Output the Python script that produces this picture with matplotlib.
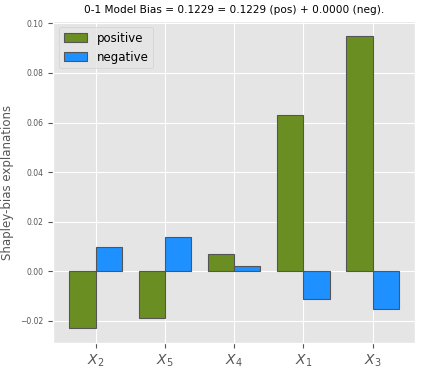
import numpy as np
import matplotlib
matplotlib.use("Agg")
import matplotlib.pyplot as plt

# Data
features = [r"$X_2$", r"$X_5$", r"$X_4$", r"$X_1$", r"$X_3$"]
pos_vals = [-0.023, -0.019, 0.007, 0.063, 0.095]
neg_vals = [0.010, 0.014, 0.002, -0.011, -0.015]

plt.style.use("ggplot")
fig, ax = plt.subplots(figsize=(4.23, 3.70), dpi=100)

x = np.arange(len(features))
w = 0.38
ax.bar(x, pos_vals, width=-w, align="edge", color="olivedrab", edgecolor="#555555",
       linewidth=0.8, label="positive")
ax.bar(x, neg_vals, width=w, align="edge", color="dodgerblue", edgecolor="#555555",
       linewidth=0.8, label="negative")

ax.set_xticks(x)
ax.set_xticklabels(features, fontsize=10)
ax.tick_params(axis="y", labelsize=5.5)
ax.set_ylabel("Shapley-bias explanations", fontsize=8.5)
ax.set_title("0-1 Model Bias = 0.1229 = 0.1229 (pos) + 0.0000 (neg).", fontsize=7.6)
ax.legend(loc="upper left", fontsize=8.5)

fig.subplots_adjust(left=0.125, right=0.982, top=0.943, bottom=0.073)
fig.savefig("out.png", dpi=100)
